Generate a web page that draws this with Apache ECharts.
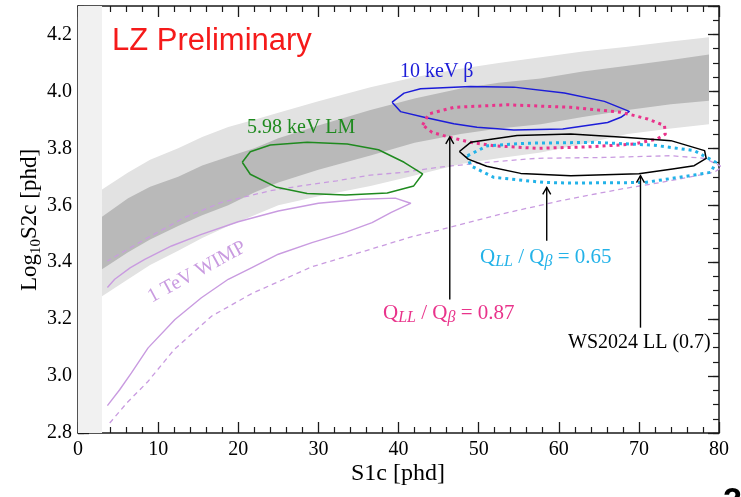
<!DOCTYPE html>
<html>
<head>
<meta charset="utf-8">
<script src="https://cdn.jsdelivr.net/npm/echarts@6/dist/echarts.min.js"></script>
<style>
  html, body { margin: 0; padding: 0; background: #fff; }
  #chart { width: 741px; height: 497px; }
</style>
</head>
<body>
<div id="chart"></div>
<script>
// ER background band: S1c sample points with 1σ (dark) and 2σ (light) edges in log10 S2c
const s1Band    = [3, 6.25, 9, 12.5, 15.5, 18.75, 22, 25, 30, 36.5, 42, 47.75, 52.5, 57.75, 63, 68.6, 74, 78.75];
const lightHigh = [3.655, 3.715, 3.76, 3.80, 3.84, 3.875, 3.90, 3.925, 3.965, 4.015, 4.05, 4.08, 4.10, 4.12, 4.14, 4.157, 4.175, 4.19];
const darkHigh  = [3.56, 3.625, 3.665, 3.70, 3.74, 3.77, 3.80, 3.835, 3.88, 3.935, 3.975, 4.01, 4.03, 4.045, 4.07, 4.09, 4.11, 4.13];
const darkLow   = [3.375, 3.435, 3.48, 3.527, 3.565, 3.60, 3.645, 3.68, 3.725, 3.775, 3.82, 3.85, 3.87, 3.885, 3.91, 3.935, 3.955, 3.967];
const lightLow  = [3.28, 3.34, 3.39, 3.44, 3.485, 3.527, 3.565, 3.60, 3.632, 3.668, 3.705, 3.745, 3.765, 3.785, 3.815, 3.85, 3.87, 3.885];

// S1 threshold region
const thresholdS1 = [0, 3];

// 1 TeV WIMP contours [S1c, log10 S2c]
const wimpSolid = [[3.67,3.311],[4.58,3.34],[6.5,3.38],[8.33,3.41],[11.67,3.457],[15.4,3.498],[20,3.542],[25,3.58],[30,3.607],[35.4,3.621],[39.6,3.625],[41.5,3.607],[39.1,3.575],[36.7,3.539],[33.3,3.504],[29.2,3.469],[25,3.428],[21.7,3.381],[18.75,3.34],[15.4,3.275],[12.1,3.199],[8.75,3.099],[6.67,3.011],[5.2,2.952],[3.67,2.896]];
const wimpDashed = [[3.96,2.835],[6.1,2.906],[8.7,2.98],[12,3.093],[16.7,3.211],[21.7,3.29],[29.2,3.384],[36.7,3.447],[41.7,3.49],[45,3.512],[52.5,3.567],[60.25,3.616],[67.75,3.657],[72.75,3.68],[79.4,3.716],[80.4,3.735],[78.2,3.765],[74,3.774],[65.7,3.768],[57.3,3.765],[51.1,3.751],[44.8,3.733],[40.7,3.716],[36.5,3.706],[32.3,3.686],[29.2,3.674],[24,3.651],[17.9,3.61],[13.3,3.557],[8.33,3.48],[3.67,3.404]];

// Calibration contours
const lmContour = [[20.5,3.751],[21.5,3.788],[24.0,3.812],[28.6,3.821],[33.6,3.815],[37.5,3.795],[40.7,3.751],[43.0,3.710],[41.9,3.668],[38.6,3.643],[33.4,3.636],[28.6,3.641],[24.8,3.663],[21.5,3.709],[20.5,3.751]];
const betaContour = [[39.2,3.962],[40.7,3.994],[42.75,4.009],[49.0,4.017],[54.4,4.015],[60.7,3.994],[65.7,3.965],[68.8,3.930],[67.75,3.909],[66.1,3.891],[60.5,3.868],[54.4,3.864],[49.8,3.874],[46.9,3.886],[43.2,3.909],[40.25,3.929],[39.2,3.962]];
const q087Contour = [[43.0,3.882],[43.8,3.921],[46.9,3.944],[53.6,3.953],[61.5,3.944],[67.75,3.927],[71.1,3.903],[73.2,3.880],[73.3,3.850],[72.3,3.833],[69.4,3.815],[63.6,3.805],[57.3,3.800],[51.9,3.809],[49.0,3.821],[46.1,3.841],[44.2,3.856],[43.0,3.882]];
const q065Contour = [[48.6,3.774],[51.1,3.809],[56,3.818],[64.4,3.821],[71.9,3.811],[76.9,3.792],[79.6,3.751],[79.0,3.716],[76.9,3.706],[70.7,3.680],[61.5,3.678],[58.2,3.680],[51.9,3.698],[49.0,3.739],[48.6,3.774]];
const ws2024Contour = [[47.6,3.789],[49.0,3.821],[54.8,3.845],[61.5,3.850],[68.6,3.838],[74.0,3.827],[78.2,3.792],[78.4,3.765],[76.9,3.739],[74.2,3.727],[70.0,3.711],[61.5,3.704],[55.25,3.712],[51.0,3.737],[48.7,3.762],[47.6,3.789]];

// Pointer arrows: [S1 tail, S2 tail, S1 head, S2 head]
const arrowLinks = [
  [46.4, 3.269, 46.4, 3.84],
  [58.5, 3.475, 58.5, 3.663],
  [70.2, 3.17, 70.2, 3.704]
];

const SERIF = '"Liberation Serif", "Times New Roman", serif';
const SANS = '"Liberation Sans", Arial, sans-serif';
const FRAME = '#1a1a1a';
const TEXT_Z = 100;

function bandSeries(lo, hi, color, z) {
  return {
    type: 'custom',
    silent: true,
    z: z,
    data: [[s1Band[0], lo[0]]],
    renderItem: function (params, api) {
      const pts = [];
      for (let i = 0; i < s1Band.length; i++) pts.push(api.coord([s1Band[i], hi[i]]));
      for (let i = s1Band.length - 1; i >= 0; i--) pts.push(api.coord([s1Band[i], lo[i]]));
      return { type: 'polygon', shape: { points: pts }, style: { fill: color } };
    }
  };
}

function contour(data, color, width, dash, z) {
  return {
    type: 'line',
    data: data,
    showSymbol: false,
    symbol: 'none',
    silent: true,
    z: z,
    lineStyle: { color: color, width: width, type: dash || 'solid', cap: 'butt', join: 'round' }
  };
}

const xCommon = {
  type: 'value', min: 0, max: 80, interval: 10,
  axisLine: { show: true, onZero: false, lineStyle: { color: FRAME, width: 1.5 } },
  axisTick: { show: true, inside: true, length: 11, lineStyle: { color: FRAME, width: 1.3 } },
  minorTick: { show: true, splitNumber: 5, length: 6, lineStyle: { color: FRAME, width: 1.2 } },
  splitLine: { show: false },
  minorSplitLine: { show: false }
};
function yMajor(pos, labels) {
  return {
    type: 'value', min: 2.8, max: 4.3, interval: 0.2, position: pos,
    axisLine: { show: true, onZero: false, lineStyle: { color: FRAME, width: 1.5 } },
    axisTick: { show: true, inside: true, length: 11, lineStyle: { color: FRAME, width: 1.3 } },
    axisLabel: labels ? {
      show: true, margin: 6, color: '#000', fontFamily: SERIF, fontSize: 20,
      showMaxLabel: false, formatter: function (v) { return v.toFixed(1); }
    } : { show: false },
    splitLine: { show: false }
  };
}
function yMinor(pos) {
  return {
    type: 'value', min: 2.8, max: 4.3, interval: 0.05, position: pos,
    axisLine: { show: false, onZero: false },
    axisTick: { show: true, inside: true, length: 6, lineStyle: { color: FRAME, width: 1.2 } },
    axisLabel: { show: false },
    splitLine: { show: false }
  };
}

function textEl(x, y, text, font, color) {
  return {
    type: 'text', x: x, y: y, z: TEXT_Z, silent: true,
    style: {
      text: text, font: font, fill: color,
      align: 'left', verticalAlign: 'middle',
      textAlign: 'left', textVerticalAlign: 'middle'
    }
  };
}

function ratioLabel(x, y, value, color) {
  const main = { fontFamily: SERIF, fontSize: 21, lineHeight: 25, fill: color, color: color };
  const sub = { fontFamily: SERIF, fontSize: 16, fontStyle: 'italic', lineHeight: 16, verticalAlign: 'bottom', fill: color, color: color };
  return {
    type: 'text', x: x, y: y, z: TEXT_Z, silent: true,
    style: {
      text: '{m|Q}{s|LL}{m| / Q}{s|β}{m| = ' + value + '}',
      align: 'left', verticalAlign: 'middle', textAlign: 'left', textVerticalAlign: 'middle',
      rich: { m: main, s: sub }
    }
  };
}

const chart = echarts.init(document.getElementById('chart'), null, { renderer: 'canvas' });

const option = {
  animation: false,
  backgroundColor: '#fff',
  grid: { left: 78, right: 22, top: 6, bottom: 64, containLabel: false },
  xAxis: [
    Object.assign({}, xCommon, {
      position: 'bottom',
      axisLabel: { show: true, margin: 7, color: '#000', fontFamily: SERIF, fontSize: 20 }
    }),
    Object.assign({}, xCommon, { position: 'top', axisLabel: { show: false } })
  ],
  yAxis: [yMajor('left', true), yMinor('left'), yMajor('right', false), yMinor('right')],
  series: [
    {
      type: 'custom', silent: true, z: 1,
      data: [[thresholdS1[0], 2.8]],
      renderItem: function (params, api) {
        const a = api.coord([thresholdS1[0], 4.3]);
        const b = api.coord([thresholdS1[1], 2.8]);
        return { type: 'rect', shape: { x: a[0], y: a[1], width: b[0] - a[0], height: b[1] - a[1] }, style: { fill: '#f1f1f1' } };
      }
    },
    bandSeries(lightLow, lightHigh, '#e2e2e2', 2),
    bandSeries(darkLow, darkHigh, '#b9b9b9', 3),
    contour(wimpDashed, '#c99be0', 1.3, [5, 4], 4),
    contour(wimpSolid, '#c99be0', 1.4, 'solid', 4),
    contour(lmContour, '#1f8a1f', 1.5, 'solid', 5),
    contour(betaContour, '#1c1cd8', 1.5, 'solid', 5),
    contour(q087Contour, '#e9338b', 3, [3, 4], 6),
    contour(q065Contour, '#22b2e8', 3, [3, 4], 6),
    contour(ws2024Contour, '#000000', 1.5, 'solid', 7),
    {
      type: 'custom', silent: true, z: 8,
      data: arrowLinks,
      encode: { x: [0, 2], y: [1, 3] },
      renderItem: function (params, api) {
        const p0 = api.coord([api.value(0), api.value(1)]);
        const p1 = api.coord([api.value(2), api.value(3)]);
        return {
          type: 'group',
          children: [
            { type: 'line', shape: { x1: p0[0], y1: p0[1], x2: p1[0], y2: p1[1] }, style: { stroke: '#000', lineWidth: 1.4 } },
            { type: 'polyline', shape: { points: [[p1[0] - 4, p1[1] + 7], [p1[0], p1[1]], [p1[0] + 4, p1[1] + 7]] }, style: { stroke: '#000', fill: null, lineWidth: 1.4 } }
          ]
        };
      }
    }
  ],
  graphic: [
    textEl(112, 41, 'LZ Preliminary', '31px ' + SANS, '#f51a1a'),
    textEl(400, 72, '10 keV β', '20px ' + SERIF, '#1c1cd8'),
    textEl(247, 128, '5.98 keV LM', '20px ' + SERIF, '#1f8a1f'),
    textEl(568, 343, 'WS2024 LL (0.7)', '20px ' + SERIF, '#000'),
    {
      type: 'text', x: 197, y: 272, rotation: 0.5, z: TEXT_Z, silent: true,
      style: { text: '1 TeV WIMP', font: '20px ' + SERIF, fill: '#c99be0', align: 'center', verticalAlign: 'middle', textAlign: 'center', textVerticalAlign: 'middle' }
    },
    ratioLabel(383, 313, '0.87', '#e9338b'),
    ratioLabel(480, 257, '0.65', '#22b2e8'),
    {
      type: 'text', x: 398, y: 474, z: TEXT_Z, silent: true,
      style: { text: 'S1c [phd]', font: '24px ' + SERIF, fill: '#000', align: 'center', verticalAlign: 'middle', textAlign: 'center', textVerticalAlign: 'middle' }
    },
    {
      type: 'text', x: 30, y: 220, rotation: Math.PI / 2, z: TEXT_Z, silent: true,
      style: {
        text: '{a|Log}{b|10}{a|S2c [phd]}',
        align: 'center', verticalAlign: 'middle', textAlign: 'center', textVerticalAlign: 'middle',
        rich: {
          a: { fontFamily: SERIF, fontSize: 23, lineHeight: 27, fill: '#000', color: '#000' },
          b: { fontFamily: SERIF, fontSize: 15, lineHeight: 15, verticalAlign: 'bottom', fill: '#000', color: '#000' }
        }
      }
    },
    {
      type: 'text', x: 723, y: 485, z: TEXT_Z, silent: true,
      style: { text: '2', font: 'bold 34px ' + SANS, fill: '#000', align: 'left', verticalAlign: 'top', textAlign: 'left', textVerticalAlign: 'top' }
    }
  ]
};

chart.setOption(option);
</script>
</body>
</html>
